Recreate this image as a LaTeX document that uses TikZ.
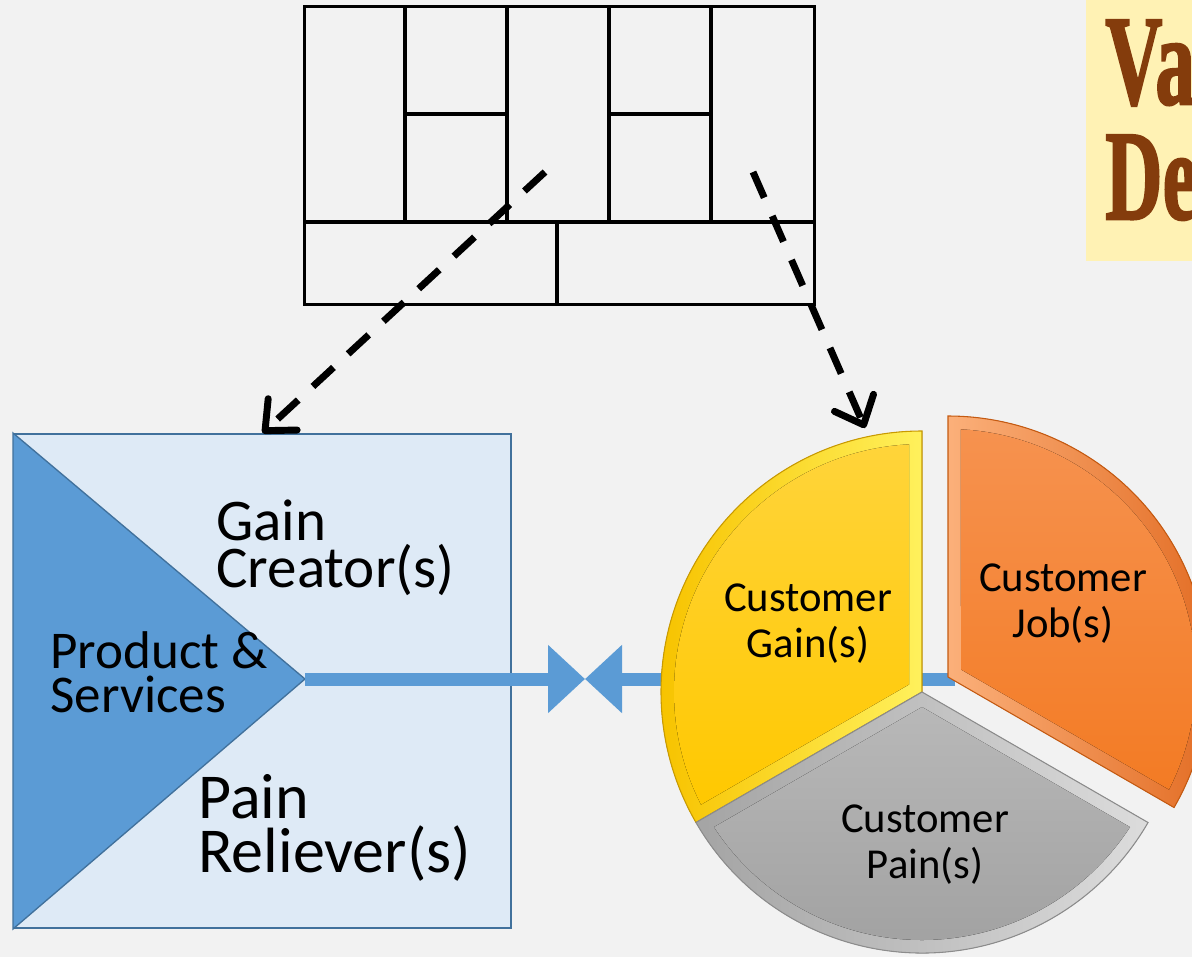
\documentclass[tikz,border=0pt]{standalone}
\usepackage{fontspec}
\setmainfont{Carlito}
\newfontfamily\titlefont[BoldFeatures={FakeBold=2}]{Liberation Serif}
\usetikzlibrary{arrows.meta,calc}

\definecolor{bg}{HTML}{F2F2F2}
\definecolor{mapfill}{HTML}{DEEAF6}
\definecolor{mapedge}{HTML}{41719C}
\definecolor{mapblue}{HTML}{5B9BD5}
\definecolor{titlebg}{HTML}{FFF2B4}
\definecolor{titleink}{HTML}{843C0C}
\definecolor{gainrim}{HTML}{C99A00}
\definecolor{gainbandL}{HTML}{F7C300}
\definecolor{gainbandR}{HTML}{FFF15C}
\definecolor{gaintop}{HTML}{FFD43A}
\definecolor{gainbot}{HTML}{FFC800}
\definecolor{painrim}{HTML}{8C8C8C}
\definecolor{painbandL}{HTML}{A4A4A4}
\definecolor{painbandR}{HTML}{DCDCDC}
\definecolor{paintop}{HTML}{B8B8B8}
\definecolor{painbot}{HTML}{A2A2A2}
\definecolor{jobrim}{HTML}{C55A11}
\definecolor{jobbandL}{HTML}{FBB07A}
\definecolor{jobbandR}{HTML}{E0651A}
\definecolor{jobtop}{HTML}{F6924F}
\definecolor{jobbot}{HTML}{F37B24}

% one pie sector: centre, start angle, end angle, radius (pixel units)
\newcommand\sectorpath[4]{(#1) -- ++(#2:#4) arc[start angle=#2, end angle=#3, radius=#4] -- cycle}

\tikzset{
  gridline/.style={line width=2.3pt, black},
  dasharrow/.style={line width=5.2pt, dash pattern=on 21pt off 15pt,
    -{Straight Barb[length=18pt,width=32pt,round]}},
  linkarrow/.style={line width=9.75pt, mapblue,
    -{Triangle[length=27.75pt,width=49.5pt]}},
  bigtext/.style={align=left, inner sep=0pt, anchor=base west},
  pietext/.style={align=center, inner sep=0pt, anchor=base,
    font={\fontsize{32}{34.5}\selectfont}},
}

\begin{document}
\begin{tikzpicture}[x=0.75pt,y=-0.75pt]
\useasboundingbox (0,0) rectangle (1192,957);
\clip (0,0) rectangle (1192,957);
\fill[bg] (0,0) rectangle (1192,957);

% title block in the upper right corner
\fill[titlebg] (1086,-5) rectangle (1200,261);
\node[bigtext, text=titleink,
      font={\titlefont\bfseries\fontsize{96}{86.25}\selectfont}]
  (title) at (1105,219) {\scalebox{0.62}[1]{Va}\\\scalebox{0.62}[1]{De}};

% business model canvas sketch
\node[draw, line width=2.6pt, anchor=north west, inner sep=0pt,
      minimum width=382.5pt, minimum height=223.5pt] (canvas) at (303,5) {};
\draw[gridline] (405,5) -- (405,222);
\draw[gridline] (507,5) -- (507,222);
\draw[gridline] (609,5) -- (609,222);
\draw[gridline] (711,5) -- (711,222);
\draw[gridline] (303,222) -- (813,222);
\draw[gridline] (557,222) -- (557,303);
\draw[gridline] (405,114) -- (507,114);
\draw[gridline] (609,114) -- (711,114);

% value map
\node[draw=mapedge, fill=mapfill, line width=1.5pt, anchor=north west,
      inner sep=0pt, minimum width=372.75pt, minimum height=370.5pt]
  (vmap) at (13,433) {};
\coordinate (apex) at (305,679);
\filldraw[fill=mapblue, draw=mapedge, line width=1pt]
  (vmap.north west) -- (apex) -- (vmap.south west) -- cycle;

% pie geometry
\coordinate (C) at (922,692);
\coordinate (O) at (948,677);
\coordinate (bow) at (585,679);
\coordinate (jobend) at (955,679);

% fit links
\draw[linkarrow] (apex) -- (bow);
\draw[linkarrow] (jobend) -- (bow);

% customer profile pie
% gains
\filldraw[draw=gainrim, line width=0.8pt,
          left color=gainbandL, right color=gainbandR]
  \sectorpath{C}{-90}{-210}{261};
\fill[top color=gaintop, bottom color=gainbot]
  ($(C)+(-150:15)$) -- ($(C)+(-93:248)$)
  arc[start angle=-93, end angle=-207, radius=248] -- cycle;
% pains
\filldraw[draw=painrim, line width=0.8pt,
          left color=painbandL, right color=painbandR]
  \sectorpath{C}{-210}{-330}{261};
\fill[top color=paintop, bottom color=painbot]
  ($(C)+(90:15)$) -- ($(C)+(-213:248)$)
  arc[start angle=-213, end angle=-327, radius=248] -- cycle;
% jobs
\filldraw[draw=jobrim, line width=0.8pt,
          left color=jobbandL, right color=jobbandR]
  \sectorpath{O}{30}{-90}{261};
\fill[top color=jobtop, bottom color=jobbot]
  ($(O)+(-30:15)$) -- ($(O)+(27:248)$)
  arc[start angle=27, end angle=-87, radius=248] -- cycle;

% labels
\node[bigtext, font={\fontsize{44.3}{35.25}\selectfont}] (gain)
  at (216,587) {Gain\\Creator(s)};
\node[bigtext, font={\fontsize{39.8}{33}\selectfont}] (prod)
  at (50,712) {Product \&\\Services};
\node[bigtext, font={\fontsize{48}{40.5}\selectfont}] (pain)
  at (198,872) {Pain\\Reliever(s)};
\node[pietext] (cgain) at (808,657) {Customer\\Gain(s)};
\node[pietext] (cjob) at (1063,637) {Customer\\Job(s)};
\node[pietext] (cpain) at (925,878) {Customer\\Pain(s)};

% canvas blocks feeding the two halves
\coordinate (fromvp) at (545,172);
\coordinate (fromcs) at (753,172);
\coordinate (topgain) at (865,428);
\draw[dasharrow] (fromvp) -- (vmap.north);
\draw[dasharrow] (fromcs) -- (topgain);
\end{tikzpicture}
\end{document}
